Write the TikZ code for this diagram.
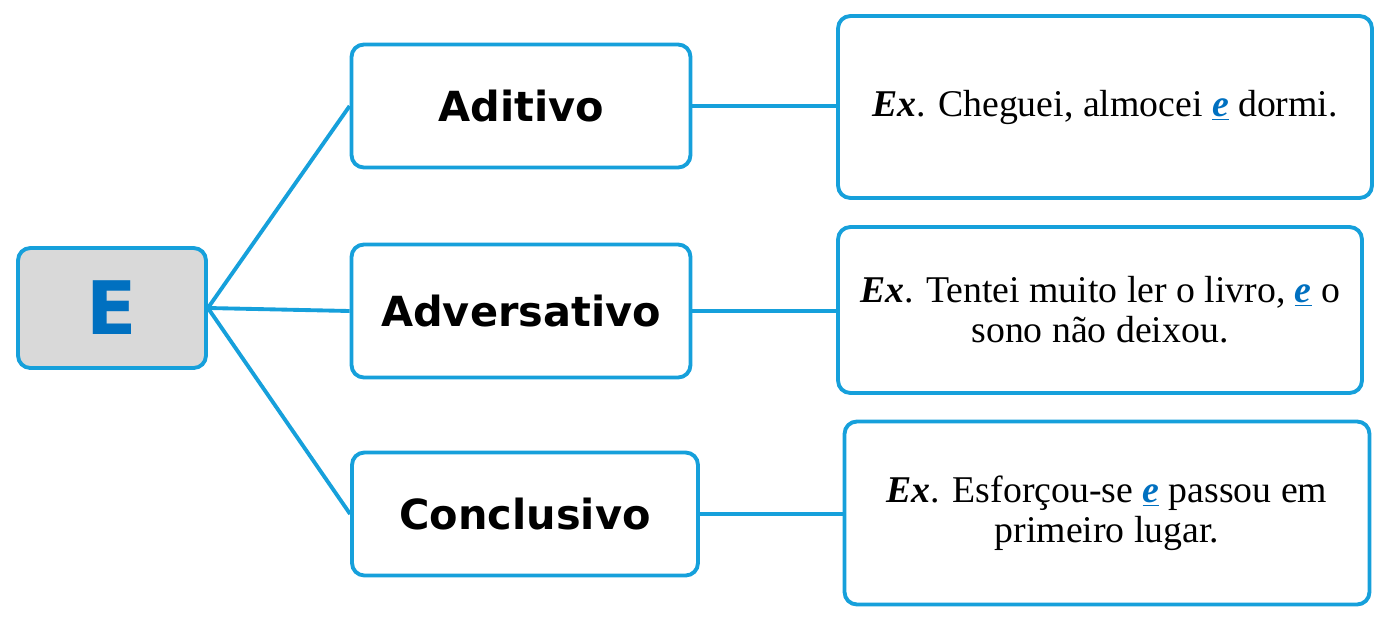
\documentclass[tikz,border=0pt]{standalone}
\usepackage{fontspec}
\setmainfont{Liberation Serif}
\newfontfamily\labelfont{DejaVu Sans}
\usepackage{xcolor}

\definecolor{linkblue}{RGB}{22,160,219}
\definecolor{eblue}{RGB}{0,112,192}
\definecolor{boxgray}{RGB}{217,217,217}

\newcommand{\conj}{\textcolor{eblue}{\underline{\textbf{\textit{e}}}}}

\tikzset{
  box/.style={draw=linkblue,line width=2.2pt,rounded corners=7pt,fill=white,inner sep=0pt},
  kindbox/.style={box,font=\labelfont\bfseries\fontsize{23.6}{26}\selectfont},
  exbox/.style={box,align=center,font=\fontsize{21.5}{22.7}\selectfont},
  link/.style={draw=linkblue,line width=2.2pt}
}

\begin{document}
\begin{tikzpicture}[x=0.02cm,y=-0.02cm]
        \useasboundingbox (0,0) rectangle (1394,626);

        % root
        \node[box,fill=boxgray,minimum width=3.76cm,minimum height=2.4cm,
              font=\labelfont\bfseries\fontsize{42}{44}\selectfont,text=eblue] (root) at (112,308) {E};

        % kinds
        \node[kindbox,minimum width=6.78cm,minimum height=2.46cm] (aditivo) at (521,106) {Aditivo};
        \node[kindbox,minimum width=6.78cm,minimum height=2.66cm] (adversativo) at (521,311) {Adversativo};
        \node[kindbox,minimum width=6.92cm,minimum height=2.46cm] (conclusivo) at (525,514) {Conclusivo};

        % examples
        \node[exbox,minimum width=10.68cm,minimum height=3.64cm] (ex1) at (1105,107)
             {\textbf{\textit{Ex}}. Cheguei, almocei \conj{} dormi.};
        \node[exbox,minimum width=10.48cm,minimum height=3.32cm] (ex2) at (1100,310)
             {\textbf{\textit{Ex}}. Tentei muito ler o livro, \conj{} o\\sono não deixou.};
        \node[exbox,minimum width=10.5cm,minimum height=3.66cm] (ex3) at (1107,513)
             {\textbf{\textit{Ex}}. Esforçou-se \conj{} passou em\\primeiro lugar.};

        % connectors
        \draw[link] (root.east) -- (aditivo.west);
        \draw[link] (root.east) -- (adversativo.west);
        \draw[link] (root.east) -- (conclusivo.west);
        \draw[link] (aditivo.east) -- (ex1.west |- aditivo.east);
        \draw[link] (adversativo.east) -- (ex2.west |- adversativo.east);
        \draw[link] (conclusivo.east) -- (ex3.west |- conclusivo.east);
    \end{tikzpicture}
\end{document}
